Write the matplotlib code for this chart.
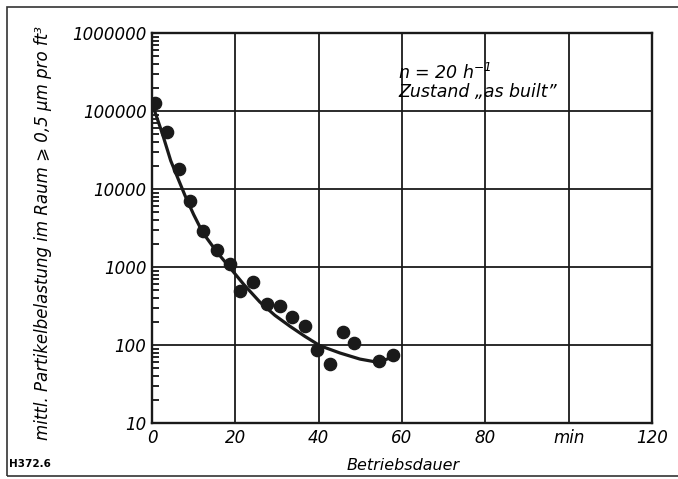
import matplotlib
matplotlib.use("Agg")
import matplotlib.pyplot as plt
from matplotlib.patches import Rectangle
from matplotlib.ticker import LogLocator, NullFormatter

plt.rcParams['font.family'] = ['DejaVu Sans']
plt.rcParams['font.style'] = 'italic'
plt.rcParams['mathtext.fontset'] = 'custom'
plt.rcParams['mathtext.rm'] = 'DejaVu Sans:italic'
plt.rcParams['mathtext.it'] = 'DejaVu Sans:italic'

# measured points (Betriebsdauer in min, particles per ft3)
t_pts = [0.7, 3.6, 6.5, 9.2, 12.3, 15.7, 18.6, 21.2, 24.3, 27.7, 30.8,
         33.5, 36.6, 39.5, 42.6, 45.8, 48.4, 54.5, 57.8]
c_pts = [127000, 54000, 18000, 7000, 2900, 1650, 1100, 490, 650, 335, 320,
         230, 175, 87, 57, 147, 107, 62, 74]

# fitted curve
t_fit = [0.5, 2.5, 4.5, 6.2, 7.9, 10, 12.2, 15.6, 18.7, 22, 25.9, 29.5,
         33.1, 36.7, 40.3, 45.1, 49.9, 54.2, 57.1]
c_fit = [105000, 51000, 23000, 13800, 8300, 4700, 2750, 1550, 980, 600, 355,
         240, 174, 129, 98, 79, 66, 60, 68]

x_ticks = [0, 20, 40, 60, 80, 100, 120]
x_labels = ['0', '20', '40', '60', '80', 'min', '120']
y_ticks = [10, 100, 1000, 10000, 100000, 1000000]
y_labels = ['10', '100', '1000', '10000', '100000', '1000000']

fig = plt.figure(figsize=(6.78, 4.79), dpi=100)
ax = fig.add_axes([152/678, 56/479, 500/678, 390/479])

ax.plot(t_fit, c_fit, color='#1a1a1a', lw=2.3, zorder=3)
ax.plot(t_pts, c_pts, 'o', color='#1a1a1a', ms=8.8, zorder=4)

ax.set_yscale('log')
ax.set_xlim(0, 120)
ax.set_ylim(10, 1000000)
ax.set_xticks(x_ticks)
ax.set_xticklabels(x_labels)
ax.set_yticks(y_ticks)
ax.set_yticklabels(y_labels)
ax.yaxis.set_minor_locator(LogLocator(base=10, subs=range(2, 10)))
ax.yaxis.set_minor_formatter(NullFormatter())
ax.tick_params(axis='both', which='major', length=0, labelsize=12, pad=4)
ax.tick_params(axis='y', which='minor', direction='in', length=5, width=1.2)
ax.grid(True, which='major', color='#1a1a1a', lw=1.3)
for s in ax.spines.values():
    s.set_linewidth(1.7)
    s.set_color('#1a1a1a')

ax.text(0.492, 0.897, 'n = 20 h$^{-1}$', transform=ax.transAxes,
        fontsize=12.5, va='center', ha='left')
ax.text(0.492, 0.849, 'Zustand \u201eas built\u201d', transform=ax.transAxes,
        fontsize=12.5, va='center', ha='left')

fig.text(43/678, 1 - 233/479,
         'mittl. Partikelbelastung im Raum \u2a7e 0,5 \u00b5m pro ft\u00b3',
         rotation=90, ha='center', va='center', fontsize=12)
fig.text(403/678, 1 - 465/479, 'Betriebsdauer', ha='center', va='center',
         fontsize=11.5)
fig.text(9/678, 1 - 464/479, 'H372.6', ha='left', va='center', fontsize=7.5,
         fontweight='bold', style='normal')

# outer frame of the figure
fig.patches.append(Rectangle((7/678, 3/479), 1.0, 469/479, transform=fig.transFigure,
                             fill=False, lw=1.2, ec='#333333'))

fig.savefig('out.png', dpi=100)
